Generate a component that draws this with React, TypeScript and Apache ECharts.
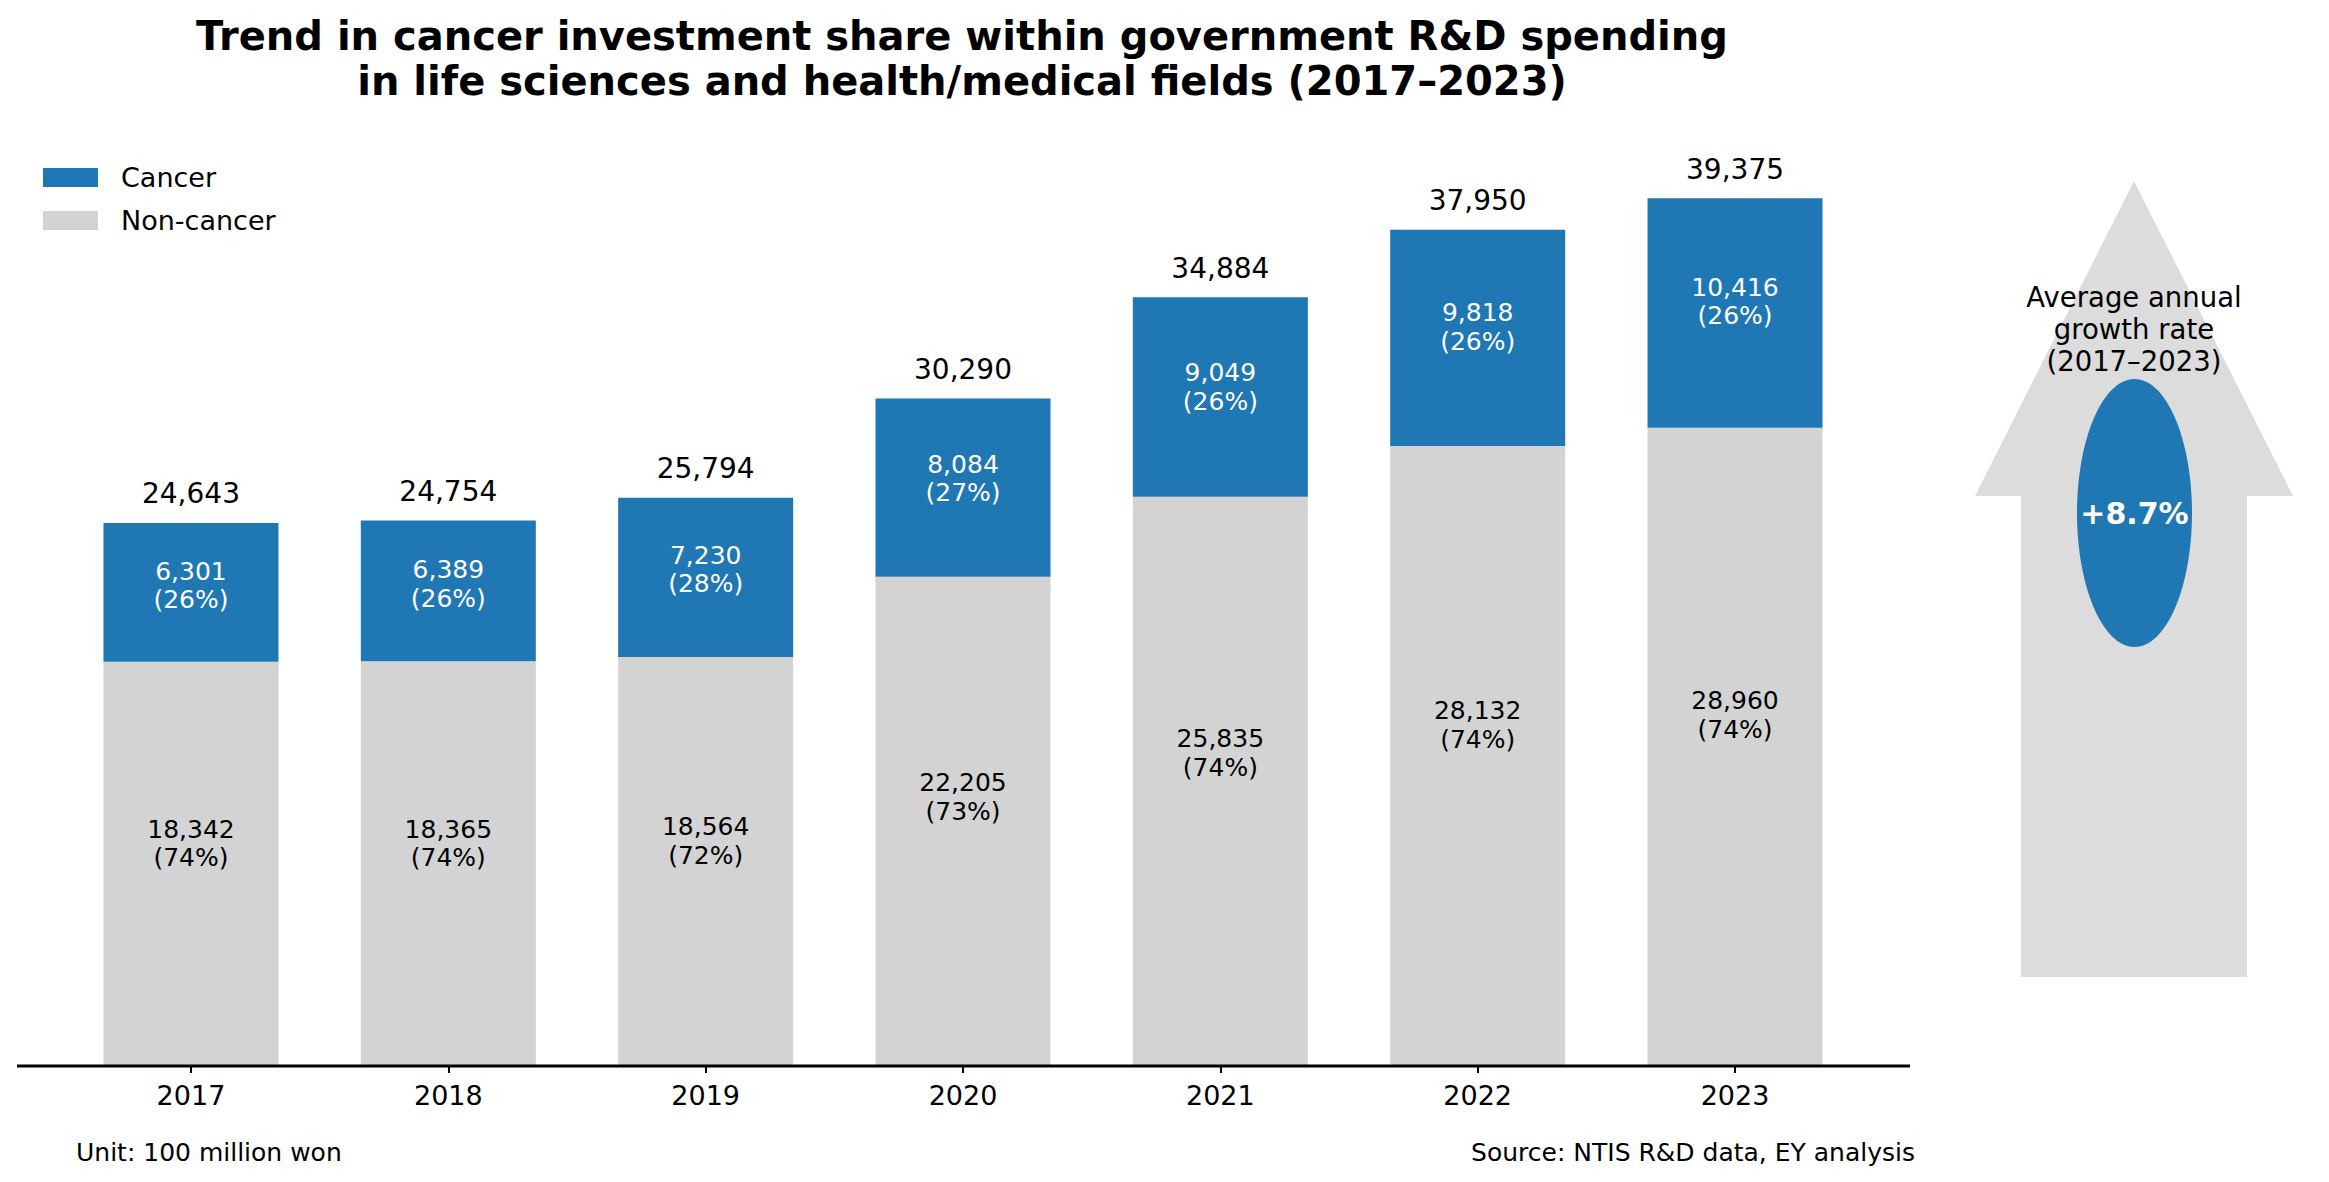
import React, { useEffect, useRef } from "react";
import * as echarts from "echarts";

// Government R&D spending in life sciences / health-medical fields (unit: 100 million won)
const years = ["2017", "2018", "2019", "2020", "2021", "2022", "2023"];
const cancer = [6301, 6389, 7230, 8084, 9049, 9818, 10416];
const nonCancer = [18342, 18365, 18564, 22205, 25835, 28132, 28960];
const totals = [24643, 24754, 25794, 30290, 34884, 37950, 39375];
const cancerShare = [26, 26, 28, 27, 26, 26, 26];
const nonCancerShare = [74, 74, 72, 73, 74, 74, 74];
const growthRate = "+8.7%";

const FONT = "DejaVu Sans";
const BLUE = "#1f77b4";
const GRAY = "#d3d3d3";
const ARROW_GRAY = "#dcdcdc";

const fmt = (v: number) => v.toLocaleString("en-US");

export default function App() {
  const ref = useRef<HTMLDivElement>(null);

  useEffect(() => {
    if (!ref.current) return;
    const chart = echarts.init(ref.current, null, { renderer: "svg" });

    const axisY = 1066;

    chart.setOption({
      animation: false,
      backgroundColor: "#ffffff",
      textStyle: { fontFamily: FONT },
      title: {
        text:
          "Trend in cancer investment share within government R&D spending\nin life sciences and health/medical fields (2017\u20132023)",
        left: 962,
        top: 13,
        padding: 0,
        textAlign: "center",
        textStyle: {
          fontFamily: FONT,
          fontSize: 40,
          fontWeight: "bold",
          lineHeight: 45,
          color: "#000",
        },
      },
      legend: {
        data: ["Cancer", "Non-cancer"],
        orient: "vertical",
        left: 43,
        top: 164,
        padding: 0,
        itemWidth: 55,
        itemHeight: 19,
        itemGap: 16,
        icon: "rect",
        selectedMode: false,
        textStyle: {
          fontFamily: FONT,
          fontSize: 27,
          lineHeight: 26,
          color: "#000",
          padding: [0, 0, 0, 18],
        },
      },
      grid: {
        left: 62.3,
        right: 465.3,
        top: 118.5,
        bottom: 1182 - axisY,
        containLabel: false,
      },
      xAxis: {
        type: "category",
        data: years,
        axisLine: { show: false },
        axisTick: {
          show: true,
          alignWithLabel: true,
          length: 7,
          lineStyle: { color: "#000", width: 2 },
        },
        axisLabel: {
          fontFamily: FONT,
          fontSize: 27,
          color: "#000",
          margin: 16,
        },
      },
      yAxis: {
        type: "value",
        min: 0,
        max: 43000,
        show: false,
        splitLine: { show: false },
      },
      series: [
        {
          name: "Non-cancer",
          type: "bar",
          stack: "total",
          barWidth: 175,
          data: nonCancer,
          itemStyle: { color: GRAY },
          label: {
            show: true,
            position: ["50%", "45%"],
            align: "center",
            verticalAlign: "middle",
            fontFamily: FONT,
            fontSize: 25,
            lineHeight: 28.5,
            color: "#000",
            formatter: (p: any) => `${fmt(p.value)}\n(${nonCancerShare[p.dataIndex]}%)`,
          },
        },
        {
          name: "Cancer",
          type: "bar",
          stack: "total",
          barWidth: 175,
          data: cancer,
          itemStyle: { color: BLUE },
          label: {
            show: true,
            position: ["50%", "45%"],
            align: "center",
            verticalAlign: "middle",
            fontFamily: FONT,
            fontSize: 25,
            lineHeight: 28.5,
            color: "#fff",
            formatter: (p: any) => `${fmt(p.value)}\n(${cancerShare[p.dataIndex]}%)`,
          },
        },
        {
          name: "Total",
          type: "bar",
          barWidth: 175,
          barGap: "-100%",
          data: totals,
          itemStyle: { color: "rgba(0,0,0,0)" },
          silent: true,
          z: 1,
          label: {
            show: true,
            position: "top",
            distance: 15,
            fontFamily: FONT,
            fontSize: 28,
            lineHeight: 28,
            color: "#000",
            formatter: (p: any) => fmt(p.value),
          },
        },
      ],
      graphic: [
        // x-axis baseline spanning the full plotting area
        {
          type: "line",
          shape: { x1: 17, y1: axisY, x2: 1910, y2: axisY },
          style: { stroke: "#000", lineWidth: 3 },
          z: 10,
        },
        {
          type: "text",
          x: 76,
          y: 1152,
          style: {
            text: "Unit: 100 million won",
            font: `25px "${FONT}"`,
            fill: "#000",
            textAlign: "left",
            textVerticalAlign: "middle",
          },
        },
        {
          type: "text",
          x: 1915,
          y: 1152,
          style: {
            text: "Source: NTIS R&D data, EY analysis",
            font: `25px "${FONT}"`,
            fill: "#000",
            textAlign: "right",
            textVerticalAlign: "middle",
          },
        },
        // Growth arrow panel
        {
          type: "polygon",
          shape: {
            points: [
              [2134, 181],
              [2293, 496],
              [2247, 496],
              [2247, 977],
              [2021, 977],
              [2021, 496],
              [1975, 496],
            ],
          },
          style: { fill: ARROW_GRAY },
          z: 1,
        },
        {
          type: "text",
          x: 2134,
          y: 329,
          z: 3,
          style: {
            text: "Average annual\ngrowth rate\n(2017\u20132023)",
            font: `27.5px "${FONT}"`,
            lineHeight: 32,
            fill: "#000",
            textAlign: "center",
            textVerticalAlign: "middle",
          },
        },
        {
          type: "ellipse",
          shape: { cx: 2134.5, cy: 513, rx: 57.5, ry: 134 },
          style: { fill: BLUE },
          z: 2,
        },
        {
          type: "text",
          x: 2134.5,
          y: 513,
          z: 3,
          style: {
            text: growthRate,
            font: `bold 30px "${FONT}"`,
            fill: "#fff",
            textAlign: "center",
            textVerticalAlign: "middle",
          },
        },
      ],
    });

    return () => chart.dispose();
  }, []);

  return (
    <div
      ref={ref}
      style={{ position: "fixed", left: 0, top: 0, width: 2329, height: 1182, background: "#fff" }}
    />
  );
}
